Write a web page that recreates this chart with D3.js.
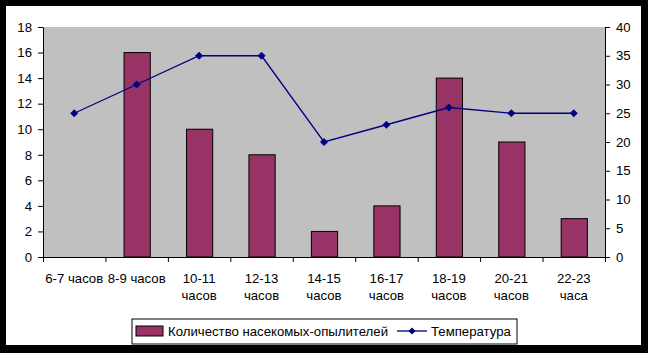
<!DOCTYPE html>
<html><head><meta charset="utf-8">
<script src="https://cdn.jsdelivr.net/npm/d3@7"></script>
<style>html,body{margin:0;padding:0;background:#000;}svg{display:block;}</style>
</head><body>
<svg id="c" width="648" height="353"></svg>
<script>
const categories = [["6-7 часов"],["8-9 часов"],["10-11","часов"],["12-13","часов"],["14-15","часов"],["16-17","часов"],["18-19","часов"],["20-21","часов"],["22-23","часа"]];
const insects = [0,16,10,8,2,4,14,9,3];
const temperature = [25,30,35,35,20,23,26,25,25];
const leftTicks = [0,2,4,6,8,10,12,14,16,18];
const rightTicks = [0,5,10,15,20,25,30,35,40];
const seriesNames = ["Количество насекомых-опылителей","Температура"];

const svg = d3.select("#c");
const font = "'Liberation Sans', Arial, sans-serif";
const fs = 13.2;
svg.append("rect").attr("x",6).attr("y",6).attr("width",635).attr("height",339).attr("fill","#fff");

const L=43, R=605, T=27, B=257;
const ids = categories.map((c,i)=>i);
const x = d3.scaleBand().domain(ids).range([L,R]).paddingInner(0).paddingOuter(0);
const yL = d3.scaleLinear().domain([0,18]).range([B,T]);
const yR = d3.scaleLinear().domain([0,40]).range([B,T]);

svg.append("rect").attr("x",L).attr("y",T).attr("width",R-L).attr("height",B-T).attr("fill","#c0c0c0");

const bw = x.bandwidth()*0.42;
svg.append("g").selectAll("rect").data(insects.map((v,i)=>({v,i})).filter(d=>d.v>0)).join("rect")
  .attr("x",d=>x(d.i)+x.bandwidth()/2-bw/2+0.5).attr("width",bw)
  .attr("y",d=>yL(d.v)).attr("height",d=>B-yL(d.v))
  .attr("fill","#993366").attr("stroke","#000").attr("stroke-width",1);

const line = d3.line().x((d,i)=>x(i)+x.bandwidth()/2).y(d=>yR(d));
svg.append("path").datum(temperature).attr("d",line).attr("fill","none").attr("stroke","#000080").attr("stroke-width",1.3);
const diamond = "M0,-3.6L3.6,0L0,3.6L-3.6,0Z";
svg.append("g").selectAll("path").data(temperature).join("path")
  .attr("transform",(d,i)=>`translate(${x(i)+x.bandwidth()/2},${yR(d)})`)
  .attr("d",diamond).attr("fill","#000080").attr("stroke","#000080").attr("stroke-width",0.8);

const gl = svg.append("g").attr("transform",`translate(${L},0)`)
  .call(d3.axisLeft(yL).tickValues(leftTicks).tickSize(5).tickSizeOuter(0).tickPadding(6));
const gr = svg.append("g").attr("transform",`translate(${R},0)`)
  .call(d3.axisRight(yR).tickValues(rightTicks).tickSize(5).tickSizeOuter(0).tickPadding(6));
const xb = d3.scaleLinear().domain([0,categories.length]).range([L,R]);
const gb = svg.append("g").attr("transform",`translate(0,${B})`)
  .call(d3.axisBottom(xb).tickValues(d3.range(categories.length+1)).tickSize(5).tickSizeOuter(0).tickFormat(""));
[gl,gr,gb].forEach(g=>{
  g.selectAll("path.domain").attr("stroke","#000").attr("stroke-width",1);
  g.selectAll(".tick line").attr("stroke","#000");
  g.selectAll("text").attr("font-family",font).attr("font-size",fs).attr("fill","#000");
});

const lab = svg.append("g");
categories.forEach((c,i)=>{
  const t = lab.append("text").attr("x",x(i)+x.bandwidth()/2).attr("y",283)
    .attr("text-anchor","middle").attr("font-family",font).attr("font-size",fs).attr("fill","#000");
  c.forEach((s,j)=>t.append("tspan").attr("x",x(i)+x.bandwidth()/2).attr("dy",j?17:0).text(s));
});

const lg = svg.append("g");
lg.append("rect").attr("x",132).attr("y",319).attr("width",385).attr("height",25).attr("fill","#fff").attr("stroke","#000");
lg.append("rect").attr("x",136).attr("y",326).attr("width",27).attr("height",10).attr("fill","#993366").attr("stroke","#000");
lg.append("text").attr("x",168).attr("y",336).attr("font-family",font).attr("font-size",fs).text(seriesNames[0]);
lg.append("line").attr("x1",397).attr("x2",427).attr("y1",331).attr("y2",331).attr("stroke","#000080").attr("stroke-width",1.3);
lg.append("path").attr("transform","translate(412,331)").attr("d",diamond).attr("fill","#000080");
lg.append("text").attr("x",431).attr("y",336).attr("font-family",font).attr("font-size",fs).text(seriesNames[1]);
</script>
</body></html>
